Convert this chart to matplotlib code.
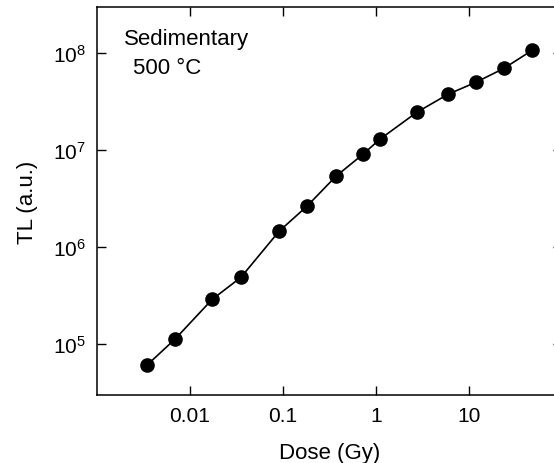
import matplotlib.pyplot as plt

plt.rcParams["font.family"] = ["Liberation Sans", "DejaVu Sans"]
plt.rcParams["mathtext.default"] = "regular"

# Dose (Gy) and TL signal
dose = [0.00345, 0.0069, 0.0173, 0.0353, 0.0906, 0.181, 0.371, 0.725,
        1.10, 2.76, 5.95, 11.9, 23.8, 47.5]
tl = [6.1e4, 1.13e5, 2.9e5, 4.9e5, 1.46e6, 2.65e6, 5.4e6, 9.1e6,
      1.30e7, 2.47e7, 3.78e7, 5.03e7, 7.0e7, 1.07e8]

xticks = [0.01, 0.1, 1, 10]
xticklabels = ["0.01", "0.1", "1", "10"]
yticks = [1e5, 1e6, 1e7, 1e8]

fig = plt.figure(figsize=(5.54, 4.64), dpi=100)
# right spine sits just past the image edge in the original
ax = fig.add_axes([97 / 554, (464 - 396) / 464, (562 - 97) / 554, (396 - 8) / 464])

ax.plot(dose, tl, "-", color="black", lw=1.2, marker="o", ms=9.5,
        markerfacecolor="black", markeredgecolor="black")

ax.set_xscale("log")
ax.set_yscale("log")
ax.set_xlim(0.001, 100)
ax.set_ylim(3e4, 3e8)
ax.set_xticks(xticks)
ax.set_xticklabels(xticklabels)
ax.set_yticks(yticks)
ax.minorticks_off()
ax.tick_params(which="major", direction="in", top=True, right=True,
               length=6.5, width=1.0, labelsize=15, pad=8)
for s in ax.spines.values():
    s.set_linewidth(1.1)

ax.set_xlabel("Dose (Gy)", fontsize=16, labelpad=12)
ax.set_ylabel("TL (a.u.)", fontsize=16, labelpad=11)

ax.text(0.058, 0.945, "Sedimentary", transform=ax.transAxes, fontsize=16,
        va="top", ha="left")
ax.text(0.078, 0.872, "500 °C", transform=ax.transAxes, fontsize=16,
        va="top", ha="left")

fig.savefig("out.png", dpi=100)
